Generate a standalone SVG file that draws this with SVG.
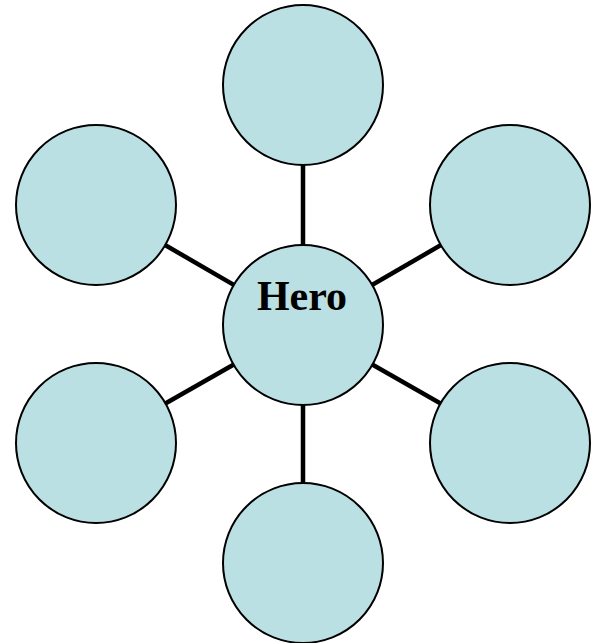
<svg xmlns="http://www.w3.org/2000/svg" width="597" height="643" viewBox="0 0 597 643">
<style>
.n{fill:#bae0e3;stroke:#000;stroke-width:2}
.c{stroke:#000;stroke-width:4.5}
.t{font-family:"Liberation Serif",serif;font-weight:bold;font-size:42px;text-anchor:middle}
</style>
<rect width="597" height="643" fill="#fff"/>
<g id="connectors">
<line class="c" x1="303" y1="325" x2="303" y2="85"/>
<line class="c" x1="303" y1="325" x2="303" y2="563"/>
<line class="c" x1="303" y1="325" x2="96" y2="205"/>
<line class="c" x1="303" y1="325" x2="510" y2="205"/>
<line class="c" x1="303" y1="325" x2="96" y2="443"/>
<line class="c" x1="303" y1="325" x2="510" y2="443"/>
</g>
<g id="top"><circle class="n" cx="303" cy="85" r="80"/></g>
<g id="topLeft"><circle class="n" cx="96" cy="205" r="80"/></g>
<g id="topRight"><circle class="n" cx="510" cy="205" r="80"/></g>
<g id="bottomLeft"><circle class="n" cx="96" cy="443" r="80"/></g>
<g id="bottomRight"><circle class="n" cx="510" cy="443" r="80"/></g>
<g id="bottom"><circle class="n" cx="303" cy="563" r="80"/></g>
<g id="hero"><circle class="n" cx="303" cy="325" r="80"/><text class="t" x="302" y="310">Hero</text></g>
</svg>
